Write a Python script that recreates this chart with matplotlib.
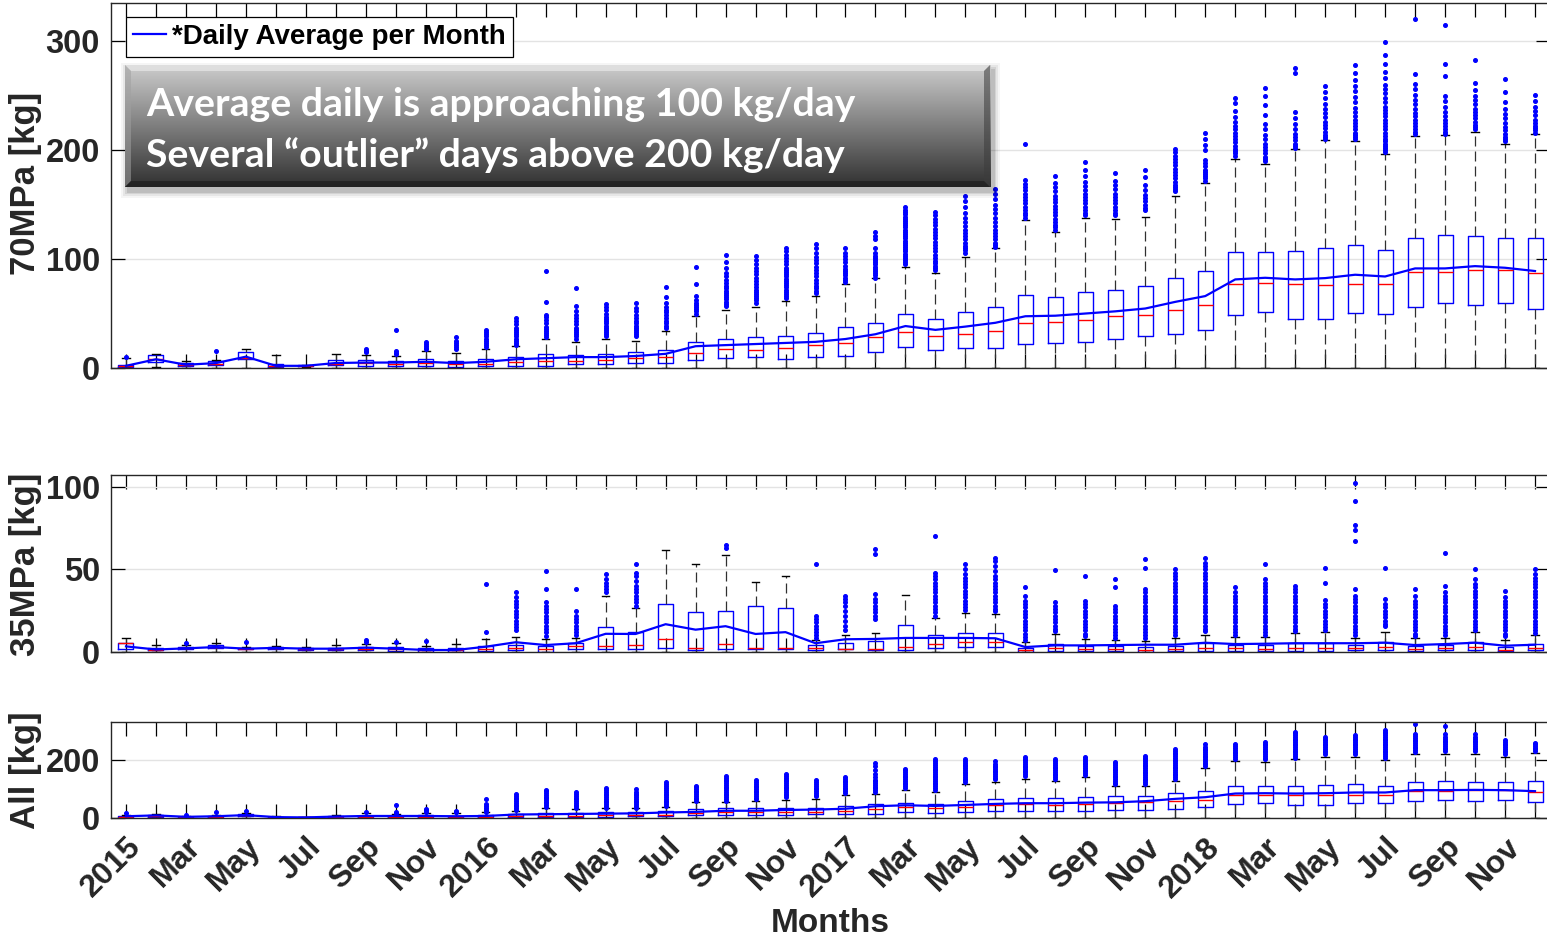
import numpy as np
import matplotlib
matplotlib.use("Agg")
import matplotlib.pyplot as plt
from matplotlib.patches import Rectangle, Polygon

# ---------------------------------------------------------------- data
months = list(range(1, 49))
tick_labels = ["2015", "Mar", "May", "Jul", "Sep", "Nov",
               "2016", "Mar", "May", "Jul", "Sep", "Nov",
               "2017", "Mar", "May", "Jul", "Sep", "Nov",
               "2018", "Mar", "May", "Jul", "Sep", "Nov"]

# 70MPa daily dispensed mass per month [kg]
q1_70 = [0.5, 5.8, 2, 3, 8, 1, 1.5, 2.8, 2, 2, 2, 1, 2, 2, 2, 3.6, 3.7, 5, 4.6, 7,
         9, 10, 8.5, 10, 11, 14.5, 19.5, 16.5, 18, 18.4, 21.8, 23, 24, 26.7, 29.4,
         31.3, 35.3, 48.8, 51.2, 45, 44.8, 50.3, 49.7, 56.4, 59.5, 57.4, 60, 54.3]
med_70 = [1.5, 8, 3, 4, 9.5, 2, 2, 4, 4.5, 4, 5, 3.5, 4, 5.5, 6, 6.4, 7.5, 9, 10, 14,
          17.7, 16.5, 18, 21, 23, 28, 33, 29.4, 31.5, 34, 41.4, 42.3, 43.9, 47.9, 48.5,
          52.8, 58, 77.3, 78, 77.3, 75.8, 76.7, 76.7, 88.3, 88.3, 90, 90, 87.4]
q3_70 = [3, 11.6, 4.5, 6.4, 15, 3.6, 2.5, 7.3, 7.3, 6.4, 8, 6.4, 8, 10, 13, 12, 13,
         14.5, 16.5, 23.6, 27, 28.4, 29.6, 32, 37.5, 41, 49.5, 45, 51, 56, 67.2, 65, 70,
         71.8, 75.5, 82.8, 89, 106.7, 106.7, 107.4, 110.4, 113, 108, 119, 122, 121.5,
         119, 119.6]
lo_70 = [0, 1, 0, 0, 0, 0, 1, 0, 0, 0, 0, 0, 0, 0, 0, 0, 0, 0, 0, 0, 0, 0, 0, 0,
         0, 0, 0, 0, 0, 0, 0, 0, 0, 0, 0, 0, 0, 0, 0, 0, 0, 0, 0, 0, 0, 0, 0, 0]
hi_70 = [9, 13, 6.4, 7.3, 17.5, 12, 3, 12.8, 12, 11, 16, 13.5, 17, 20, 26.5, 24, 26.6,
         25, 34, 47.7, 53, 56, 61.5, 66, 77, 82.4, 93, 87.5, 101.5, 110, 135.6, 125,
         138, 137, 139, 158, 169.6, 192, 187.4, 200.6, 209, 208, 196, 213, 213.8, 217,
         206, 214.4]
mean_70 = [2, 8, 3, 4.5, 10.4, 2, 2, 4.6, 5, 5, 5.7, 4.5, 5.7, 8, 9, 10, 10, 11, 13,
           20, 21, 22, 23, 24, 26.6, 31, 38.5, 35, 38, 41.5, 47.5, 48, 50, 52, 54.6,
           60.7, 66, 81.3, 82.8, 81.3, 82.5, 85.6, 84, 91.4, 91.4, 93.5, 92, 89]
out_70 = [
    [10], [], [], [16], [], [], [], [], [15, 16, 17], [13, 14, 16, 35],
    [17, 18, 20, 22, 24], [17, 19, 21, 23, 25, 28],
    [19, 21, 23, 25, 27, 29, 31, 33, 35],
    [21, 23, 25, 27, 29, 31, 33, 35, 37, 40, 43, 46],
    [28, 30, 32, 34, 36, 38, 41, 44, 47, 49, 61, 89],
    [27, 29, 31, 33, 35, 37, 40, 43, 46, 49, 52, 57, 73],
    [29, 31, 33, 35, 37, 39, 41, 43, 45, 47, 50, 53, 56, 59],
    [29, 31, 33, 35, 37, 39, 41, 43, 46, 49, 52, 55, 60],
    [37, 39, 41, 43, 46, 49, 51, 53, 56, 60, 65, 74],
    [50, 52, 54, 56, 58, 60, 62, 66, 77, 93],
    [57, 59, 61, 63, 65, 67, 69, 71, 73, 75, 78, 81, 84, 87, 92, 97, 104],
    [60, 62, 64, 66, 68, 70, 72, 74, 77, 80, 83, 86, 89, 92, 95, 99, 103],
    [64, 66, 68, 70, 72, 74, 76, 78, 80, 82, 84, 86, 88, 90, 92, 95, 98, 101, 104, 107, 110],
    [69, 71, 73, 75, 78, 81, 84, 87, 90, 93, 96, 99, 102, 106, 110, 114],
    [79, 81, 83, 85, 87, 89, 91, 94, 97, 100, 103, 106, 110],
    [83, 85, 87, 89, 91, 93, 95, 97, 99, 101, 103, 106, 110, 118, 121, 125],
    [95, 97, 99, 101, 103, 105, 107, 109, 111, 113, 115, 117, 119, 121, 123, 125, 127,
     129, 131, 133, 135, 137, 139, 141, 143, 145, 148],
    [90, 92, 94, 96, 98, 101, 104, 107, 110, 113, 116, 119, 122, 125, 128, 131, 134, 137, 140, 143],
    [106, 108, 110, 112, 115, 118, 121, 124, 127, 130, 134, 138, 142, 148, 153, 158],
    [111, 113, 115, 118, 121, 124, 127, 130, 134, 138, 142, 146, 150, 155, 160, 164],
    [138, 140, 142, 145, 148, 151, 154, 157, 160, 163, 166, 169, 173, 206],
    [127, 129, 131, 134, 137, 140, 143, 146, 149, 152, 155, 158, 162, 166, 170, 176],
    [140, 142, 145, 148, 151, 154, 157, 160, 163, 167, 171, 176, 182, 189],
    [140, 142, 145, 148, 151, 154, 157, 160, 164, 168, 172, 179],
    [145, 147, 150, 153, 156, 159, 163, 168, 175, 182],
    [162, 164, 166, 168, 171, 174, 177, 180, 183, 186, 189, 192, 195, 198, 201],
    [172, 174, 176, 178, 180, 182, 185, 188, 191, 200, 205, 210, 216],
    [195, 197, 199, 201, 204, 207, 210, 213, 216, 219, 222, 226, 230, 236, 243, 248],
    [190, 192, 194, 197, 200, 203, 206, 210, 214, 219, 224, 232, 241, 250, 257],
    [202, 204, 206, 209, 212, 215, 219, 224, 229, 235, 271, 275],
    [210, 212, 214, 217, 220, 223, 226, 230, 234, 238, 242, 248, 253, 259],
    [210, 212, 214, 216, 219, 222, 225, 228, 231, 235, 239, 244, 249, 254, 259, 264, 271, 278],
    [198, 200, 202, 204, 206, 208, 210, 213, 216, 219, 222, 225, 228, 231, 234, 237, 240,
     244, 248, 252, 256, 260, 266, 272, 279, 287, 299],
    [215, 217, 219, 222, 225, 228, 231, 234, 238, 242, 246, 251, 256, 261, 270, 320],
    [215, 217, 219, 222, 225, 228, 231, 235, 240, 245, 250, 268, 279, 315],
    [219, 221, 223, 226, 229, 232, 235, 238, 242, 246, 250, 255, 262, 283],
    [208, 210, 212, 215, 218, 221, 225, 229, 233, 238, 244, 253, 265],
    [216, 218, 220, 222, 225, 228, 232, 236, 240, 245, 251],
]

# 35MPa daily dispensed mass per month [kg]
q1_35 = [1.8, 1, 1.6, 2.2, 1.8, 2, 1.5, 1, 1.4, 0.8, 0, 0, 0.8, 1, 0, 1.8, 2, 2, 2.2,
         1.2, 1.6, 1.8, 1.8, 1, 1.6, 1, 1.4, 2.2, 3, 2.8, 0, 0.8, 0.4, 0.6, 0, 0.4, 0.8,
         0.8, 0.8, 0.8, 0.8, 1, 1.4, 0.8, 1, 1.4, 0.4, 1]
med_35 = [5.4, 1.5, 2.2, 3, 2, 2.5, 2, 2, 2, 1.8, 1, 1, 2, 2.2, 1.8, 3.6, 3.6, 4.2, 7.9,
          2.4, 5, 2.6, 2.6, 2.2, 2, 2, 2.8, 4.8, 6, 6, 1.2, 2.2, 2, 2, 1.4, 1.6, 2.4, 2.4,
          1.8, 2.4, 2.4, 2.4, 3.2, 2, 2.4, 2.8, 1.4, 2.2]
q3_35 = [5.5, 2.5, 3.2, 4, 2.6, 3, 2.5, 2.6, 3, 2.8, 2.4, 2.2, 3.8, 4.4, 3.4, 5.7, 15,
         12, 29, 24, 25, 27.7, 26.7, 4.2, 5.3, 6.5, 16.4, 10, 11.3, 11.3, 2.4, 4.8, 3.8,
         3.8, 3, 3.6, 5.5, 4.4, 4.2, 5.3, 5.3, 4.2, 5.9, 3.8, 4.4, 5.9, 3.2, 4.8]
lo_35 = [0] * 48
hi_35 = [8.5, 4, 4, 5.5, 3, 3.5, 3, 4, 5, 5.3, 3.8, 4.6, 7.9, 8.9, 7.9, 8.5, 34, 26.5,
         61.4, 53.3, 58.6, 42.4, 45.7, 7.3, 10, 11.7, 34.3, 20.4, 23.6, 23, 6, 11, 7.9,
         7.3, 6.9, 8.5, 10.5, 9.3, 8.9, 11.3, 12, 8.5, 12.3, 8.3, 8.5, 12, 7.5, 10]
mean_35 = [3.4, 1.5, 2.2, 3, 2, 2.5, 2, 2, 2.6, 2, 1.2, 1.2, 3.2, 5.9, 4.2, 5.3, 11,
           10.9, 16.8, 13.5, 15.6, 10.9, 12, 5.3, 7.7, 7.9, 8.5, 8.5, 8.5, 8.3, 3, 4, 4,
           4.2, 4.4, 4.4, 5.6, 4.8, 5, 5.3, 5.3, 5.3, 5.6, 4.2, 4.8, 5.6, 3.8, 4.4]
out_35 = [
    [], [], [5.6], [], [5.9], [], [], [], [6.2, 7.5], [6.3], [6.5], [], [12, 41],
    [13, 15, 17, 19, 21, 23, 25, 27, 29, 31, 33, 36],
    [9.5, 12, 14, 16, 18, 20, 22, 24, 26, 28, 30, 38, 49],
    [10.5, 12, 14, 16, 18, 20, 22, 24.6, 38],
    [36, 38, 40, 42, 44, 47],
    [28, 30, 32, 34, 36, 38, 40, 43, 46, 48, 53],
    [], [], [63, 64.5], [], [],
    [8.5, 10, 12, 14, 16, 18, 20, 22, 53],
    [13.5, 16, 19, 22, 25, 28, 30, 32, 34],
    [20, 22, 24, 26, 28, 30, 32, 35, 59, 62],
    [],
    [21.6, 24, 26, 28, 30, 32, 34, 36, 38, 40, 42, 44, 46, 48, 70],
    [25.6, 27, 29, 31, 33, 35, 37, 39, 41, 43, 45, 47, 50, 53],
    [24.6, 26, 28, 30, 32, 34, 36, 38, 40, 42, 44, 46, 49, 52, 55, 57],
    [7.5, 9, 11, 13, 15, 17, 19, 21, 23, 25, 27, 29, 31, 34, 39],
    [12.5, 14, 16, 18, 20, 22, 24, 26, 28, 30, 49.5],
    [9.5, 11, 13, 15, 17, 19, 21, 23, 25, 27, 29, 31, 46],
    [8.5, 10, 12, 14, 16, 18, 20, 22, 24, 26, 28, 39, 44],
    [8.5, 10, 12, 14, 16, 18, 20, 22, 24, 26, 28, 30, 32, 34, 36, 38, 51, 56],
    [10, 12, 14, 16, 18, 20, 22, 24, 26, 28, 30, 32, 34, 36, 38, 40, 42, 44, 46, 48, 50],
    [12.5, 14, 16, 18, 20, 22, 24, 26, 28, 30, 32, 34, 36, 38, 40, 42, 44, 46, 48, 50, 52, 54, 57],
    [10.5, 12, 14, 16, 18, 20, 22, 24, 26, 28, 30, 32, 34, 36, 39],
    [10.5, 12, 14, 16, 18, 20, 22, 24, 26, 28, 30, 32, 34, 36, 38, 40, 42, 44, 53.5],
    [12.5, 14, 16, 18, 20, 22, 24, 26, 28, 30, 32, 34, 36, 38, 40],
    [13.5, 15, 17, 19, 21, 23, 25, 27, 29, 31.7, 42, 51],
    [10, 12, 14, 16, 18, 20, 22, 24, 26, 28, 30, 32, 34, 37.8, 67, 73.7, 76.6, 91.3, 102],
    [15.5, 17, 19, 21, 23, 25, 27, 29, 32, 51],
    [9.5, 11, 13, 15, 17, 19, 21, 23, 25, 27, 29, 31, 34, 37.8],
    [10, 12, 14, 16, 18, 20, 22, 24, 26, 28, 30, 32, 34, 36, 40, 59.8],
    [13.5, 15, 17, 19, 21, 23, 25, 27, 29, 31, 33, 35, 37, 39, 41, 44, 50],
    [9.5, 11, 13, 15, 17, 19, 21, 23, 25, 27, 29, 31, 33, 36.8],
    [11.5, 13, 15, 17, 19, 21, 23, 25, 27, 29, 31, 33, 35, 37, 39, 41, 43, 45, 47, 50],
]

# all pressure classes combined [kg]
q1_all = [0.5, 4, 1, 2, 6, 1, 1, 2, 2, 2, 2, 1, 2, 3, 3, 4, 5, 6, 6, 10, 12, 12,
          10.4, 12.7, 13.9, 15, 20.8, 18.5, 22, 23, 25, 25, 25, 27.7, 29, 32, 38, 49.7,
          52, 46, 46, 52, 51, 59, 61, 59, 61, 56.6]
med_all = [3, 8, 3, 4, 9, 2, 2, 4, 5, 4, 5, 4, 4, 6, 7, 8, 9, 10, 12, 18, 20, 20,
           22, 22, 25.4, 32, 37, 33.5, 38, 44, 47, 46, 48.6, 52, 54, 59, 61, 81, 81, 81,
           81, 80, 80, 94.8, 94.8, 96, 95, 91]
q3_all = [6, 12, 5, 8, 14, 4, 3, 8, 8, 8, 9, 8, 9, 14, 16, 16, 20, 20, 24, 32, 36, 36,
          33.5, 34.7, 41.6, 48.6, 52, 48.6, 60, 66, 69, 68, 73, 75, 77.5, 86.7, 92.5,
          111, 112, 112, 113, 116.8, 112, 123.7, 126, 125, 122.5, 126]
lo_all = [0] * 48
hi_all = [12, 15, 8, 10, 16, 6, 4, 11, 16, 15, 17, 16, 19, 24, 35, 30, 33, 33, 38, 54,
          56, 60, 63.6, 67, 78.6, 82, 96, 90, 115.6, 125, 136, 127, 141, 110, 110, 127,
          171, 196.5, 194, 202, 210, 211.6, 201, 222, 222, 222, 211.6, 223]
mean_all = [6, 9, 4, 6, 10, 3, 2, 5, 7, 7, 7, 6, 7, 12, 13, 14, 15, 16, 19, 21, 25, 25,
            27.7, 29, 32, 40.5, 44, 41.6, 45, 48.6, 51, 51, 53, 54, 58, 66, 71.7, 84.4,
            85.5, 84.4, 85.5, 88, 88, 96, 96, 97, 96, 92.5]
out_all = [
    [18], [], [10], [22], [25], [], [], [], [20], [18, 22, 45], [22, 26, 32],
    [19, 22, 25], [22, 28, 34, 40, 48, 67],
    [28, 34, 40, 46, 52, 58, 64, 70, 76, 82],
    [38, 44, 50, 56, 62, 68, 74, 80, 86, 92, 97],
    [34, 40, 46, 52, 58, 64, 70, 76, 82, 89],
    [36, 42, 48, 54, 60, 66, 72, 78, 84, 90, 96, 102],
    [36, 42, 48, 54, 60, 66, 72, 78, 84, 90, 99],
    [42, 48, 54, 60, 66, 72, 78, 84, 90, 96, 102, 110, 118, 124],
    [58, 64, 70, 76, 82, 88, 94, 100, 106, 112],
    [60, 66, 72, 78, 84, 90, 96, 102, 108, 114, 120, 126, 132, 138, 145],
    [64, 70, 76, 82, 88, 94, 100, 106, 112, 118, 124, 132],
    [72, 78, 84, 90, 96, 102, 108, 114, 120, 126, 132, 138, 144, 150],
    [75, 81, 87, 93, 99, 105, 111, 117, 123, 129.5],
    [87, 93, 99, 105, 111, 117, 123, 129, 136, 143],
    [90, 96, 102, 108, 114, 120, 126, 132, 140, 150, 165, 178, 190],
    [104, 110, 116, 122, 128, 134, 140, 146, 152, 158, 164, 170],
    [98, 104, 110, 116, 122, 128, 134, 140, 146, 152, 158, 164, 170, 176, 182, 188, 196, 205],
    [124, 130, 136, 142, 148, 154, 160, 166, 172, 178, 184, 190, 196, 202],
    [133, 139, 145, 151, 157, 163, 169, 175, 181, 187, 196],
    [145, 151, 157, 163, 169, 175, 181, 187, 193, 199, 205, 212],
    [135, 141, 147, 153, 159, 165, 171, 177, 183, 190, 196, 202],
    [149, 155, 161, 167, 173, 179, 185, 191, 197, 204, 212],
    [116, 122, 128, 134, 140, 146, 152, 158, 164, 170, 176, 182, 188, 194],
    [118, 124, 130, 136, 142, 148, 154, 160, 166, 172, 178, 184, 190, 196, 202, 208, 214],
    [135, 141, 147, 153, 159, 165, 171, 177, 183, 189, 195, 201, 207, 213, 219, 225, 232, 239],
    [179, 185, 191, 197, 203, 209, 215, 221, 227, 233, 239, 246, 254],
    [205, 211, 217, 223, 229, 235, 241, 248, 254],
    [202, 208, 214, 220, 226, 232, 238, 244, 250, 256, 262],
    [208, 214, 220, 226, 232, 238, 244, 250, 256, 262, 268, 274, 280, 286, 292, 298],
    [220, 226, 232, 238, 244, 250, 256, 262, 268, 274, 280],
    [220, 226, 232, 238, 244, 250, 256, 262, 268, 274, 280, 287],
    [208, 214, 220, 226, 232, 238, 244, 250, 256, 262, 268, 274, 280, 286, 292, 298, 303],
    [228, 234, 240, 246, 252, 258, 264, 270, 276, 282, 290, 324],
    [231, 237, 243, 249, 255, 261, 267, 273, 280, 290, 316],
    [231, 237, 243, 249, 255, 261, 267, 273, 280, 289],
    [220, 226, 232, 238, 244, 250, 256, 262, 269],
    [231, 237, 243, 249, 255, 260],
]

# ---------------------------------------------------------------- style
W, H = 1547, 939
FONT = "Liberation Sans"
TXT = "#262626"
plt.rcParams["font.family"] = [FONT, "DejaVu Sans"]

fig = plt.figure(figsize=(W / 100, H / 100), dpi=100)


def px_axes(left, top, right, bottom, **kw):
    return fig.add_axes([left / W, 1 - bottom / H, (right - left) / W, (bottom - top) / H], **kw)


def draw_panel(ax, q1, med, q3, lo, hi, fliers, mean, ylim, yticks):
    stats = []
    for i in range(len(months)):
        stats.append(dict(q1=q1[i], med=med[i], q3=q3[i], whislo=lo[i],
                          whishi=hi[i], fliers=fliers[i]))
    ax.bxp(stats, positions=months, widths=0.5, capwidths=0.25,
           showfliers=True, manage_ticks=False,
           boxprops=dict(color="#0000ff", lw=1.0),
           medianprops=dict(color="#ff0000", lw=1.0),
           whiskerprops=dict(color="#303030", lw=0.9, linestyle=(0, (8, 4))),
           capprops=dict(color="black", lw=1.0),
           flierprops=dict(marker="o", markersize=2.6, markerfacecolor="#0000ff",
                           markeredgecolor="#0000ff", linestyle="none"))
    line, = ax.plot(months, mean, color="#0000ff", lw=1.6, zorder=5,
                    label="*Daily Average per Month")
    ax.set_xlim(0.5, 48.5)
    ax.set_ylim(*ylim)
    ax.set_yticks(yticks)
    ax.yaxis.grid(True, color="#e3e3e3", lw=1.0)
    ax.set_axisbelow(True)
    ax.set_xticks(months)
    ax.tick_params(direction="in", top=True, right=True, length=10, width=0.9,
                   colors="black", labelcolor=TXT, labelsize=23.5, pad=8)
    for lab in ax.get_yticklabels():
        lab.set_fontweight("bold")
    for sp in ax.spines.values():
        sp.set_color("#262626")
        sp.set_linewidth(1.0)
    return line


ax1 = px_axes(111, 3, 1550, 368)
ax2 = px_axes(111, 475, 1550, 652)
ax3 = px_axes(111, 722, 1550, 818)

mean_line = draw_panel(ax1, q1_70, med_70, q3_70, lo_70, hi_70, out_70, mean_70,
                       (0, 335), [0, 100, 200, 300])
draw_panel(ax2, q1_35, med_35, q3_35, lo_35, hi_35, out_35, mean_35,
           (0, 107), [0, 50, 100])
draw_panel(ax3, q1_all, med_all, q3_all, lo_all, hi_all, out_all, mean_all,
           (0, 331), [0, 200])

for ax in (ax1, ax2):
    ax.set_xticklabels([""] * len(months))

full_labels = []
for i in range(len(months)):
    full_labels.append(tick_labels[i // 2] if i % 2 == 0 else "")
ax3.set_xticklabels(full_labels, rotation=45, ha="right", va="top",
                    rotation_mode="anchor", fontweight="bold", fontsize=23)
ax3.tick_params(axis="x", pad=10)
for lab in ax3.get_xticklabels():
    x, y = lab.get_position()
    lab.set_x(x + 0.15)
fig.text(830 / W, 1 - 923 / H, "Months", ha="center", va="center",
         fontsize=24, fontweight="bold", color=TXT)

for text, yc in (("70MPa [kg]", 183), ("35MPa [kg]", 564), ("All [kg]", 770)):
    fig.text(25 / W, 1 - yc / H, text, rotation=90, ha="center", va="center",
             fontsize=25, fontweight="bold", color=TXT)

leg = ax1.legend(handles=[mean_line], loc="upper left",
                 bbox_to_anchor=((126 - 111) / 1439, (368 - 17) / 365),
                 borderaxespad=0, fancybox=False, framealpha=1, edgecolor="black",
                 handlelength=1.2, handletextpad=0.2, borderpad=0.25,
                 prop=dict(family=FONT, weight="bold", size=20))
leg.get_frame().set_linewidth(0.9)

# ---------------------------------------------------------------- callout box
bx0, by0, bx1, by1 = 125, 65, 990, 187
bw, bh = bx1 - bx0, by1 - by0

# soft drop shadow
for k, a in ((7, 0.04), (5, 0.06), (3, 0.08), (1.5, 0.10)):
    sh = px_axes(bx0 - k + 3, by0 - k + 5, bx1 + k + 3, by1 + k + 4)
    sh.set_axis_off()
    sh.add_patch(Rectangle((0, 0), 1, 1, color="black", alpha=a, lw=0,
                           transform=sh.transAxes))

note_ax = px_axes(bx0, by0, bx1, by1)
note_ax.set_axis_off()
shade = np.linspace(0.80, 0.19, 200)[:, None]
note_ax.imshow(shade, cmap="gray", vmin=0, vmax=1, aspect="auto",
               extent=(0, bw, bh, 0), interpolation="bicubic")
# bevelled frame
bev = 6
note_ax.add_patch(Polygon([(0, 0), (bw, 0), (bw - bev, bev), (bev, bev)],
                          closed=True, color="#e2e2e2", lw=0, alpha=0.85))
note_ax.add_patch(Polygon([(0, 0), (bev, bev), (bev, bh - bev), (0, bh)],
                          closed=True, color="#a0a0a0", lw=0, alpha=0.55))
note_ax.add_patch(Polygon([(bw, 0), (bw, bh), (bw - bev, bh - bev), (bw - bev, bev)],
                          closed=True, color="#3c3c3c", lw=0, alpha=0.55))
note_ax.add_patch(Polygon([(0, bh), (bev, bh - bev), (bw - bev, bh - bev), (bw, bh)],
                          closed=True, color="#1a1a1a", lw=0, alpha=0.6))
note_ax.set_xlim(0, bw)
note_ax.set_ylim(bh, 0)

note_font = dict(family=["Lato", "DejaVu Sans"], weight="bold", size=28.3, color="white")
fig.text(146 / W, 1 - 104 / H, "Average daily is approaching 100 kg/day",
         ha="left", va="center", **note_font)
fig.text(146 / W, 1 - 155 / H, "Several \u201coutlier\u201d days above 200 kg/day",
         ha="left", va="center", **note_font)

fig.savefig("out.png", dpi=100)
